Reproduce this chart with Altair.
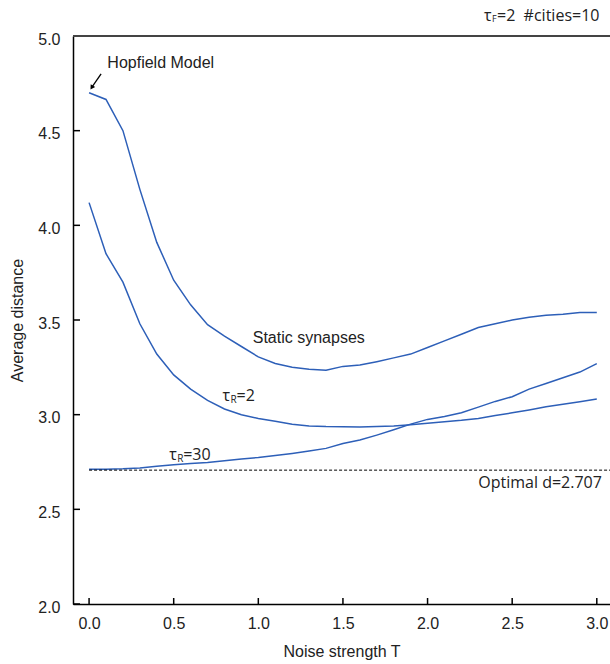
import altair as alt
import pandas as pd

# ---------------- data ----------------
T = [0.0, 0.1, 0.2, 0.3, 0.4, 0.5, 0.6, 0.7, 0.8, 0.9, 1.0,
     1.1, 1.2, 1.3, 1.4, 1.5, 1.6, 1.7, 1.8, 1.9, 2.0,
     2.1, 2.2, 2.3, 2.4, 2.5, 2.6, 2.7, 2.8, 2.9, 3.0]

static_syn = [4.70, 4.665, 4.50, 4.19, 3.91, 3.71, 3.58, 3.475, 3.415, 3.36, 3.305,
              3.27, 3.25, 3.24, 3.235, 3.255, 3.262, 3.28, 3.30, 3.32, 3.355,
              3.39, 3.425, 3.46, 3.48, 3.50, 3.515, 3.525, 3.53, 3.54, 3.54]

tau_r2 = [4.12, 3.85, 3.70, 3.48, 3.32, 3.21, 3.135, 3.075, 3.03, 3.00, 2.98,
          2.965, 2.95, 2.94, 2.937, 2.936, 2.935, 2.937, 2.94, 2.947, 2.955,
          2.962, 2.97, 2.98, 2.995, 3.01, 3.025, 3.042, 3.055, 3.068, 3.083]

tau_r30 = [2.712, 2.712, 2.714, 2.718, 2.727, 2.735, 2.742, 2.748, 2.757, 2.766, 2.774,
           2.784, 2.795, 2.808, 2.822, 2.848, 2.866, 2.892, 2.92, 2.95, 2.975,
           2.99, 3.01, 3.04, 3.07, 3.095, 3.135, 3.165, 3.195, 3.225, 3.27]

optimal_d = 2.707

x_ticks = [0.0, 0.5, 1.0, 1.5, 2.0, 2.5, 3.0]
y_ticks = [2.0, 2.5, 3.0, 3.5, 4.0, 4.5, 5.0]

x_domain = [-0.095, 3.078]
y_domain = [2.0, 5.0]

# annotations (data coordinates)
label_text = ["Hopfield Model", "Static synapses"]
label_x = [0.108, 0.967]
label_y = [4.857, 3.405]

tau_x = [0.789, 0.473]
tau_y = [3.097, 2.785]
tau_main = ["=2", "=30"]

opt_text = ["Optimal d=2.707"]
opt_x = [3.03]
opt_y = [2.64]

header_rest = "=2\u00a0\u00a0#cities=10"

arrow_tail = [0.071, 4.80]
arrow_head = [0.018, 4.731]

BLUE = "#2d5fb8"
TXT = "#222222"
W, H = 537, 568
SANS = "Liberation Sans, Arial, Helvetica, sans-serif"
HUM = "Open Sans, Noto Sans, sans-serif"

xs = alt.Scale(domain=x_domain, nice=False, zero=False)
ys = alt.Scale(domain=y_domain, nice=False, zero=False)

rows = []
for name, vals in [("static", static_syn), ("tr2", tau_r2), ("tr30", tau_r30)]:
    for t, v in zip(T, vals):
        rows.append({"T": t, "d": v, "series": name})
df = pd.DataFrame(rows)

x_axis = alt.Axis(values=x_ticks, format=".1f", title="Noise strength T",
                  labelFont=SANS, labelFontSize=16, labelColor=TXT,
                  labelPadding=11, labelFlush=False, labelOverlap=False,
                  ticks=False, tickSize=0, grid=False,
                  domainColor="black", domainWidth=1.5,
                  titleFont=SANS, titleFontSize=16, titleFontWeight="normal",
                  titleColor=TXT, titlePadding=12)
y_axis = alt.Axis(values=y_ticks, format=".1f", title="Average distance",
                  labelFont=SANS, labelFontSize=16, labelColor=TXT,
                  labelPadding=13, labelOffset=3, labelOverlap=False,
                  ticks=False, tickSize=0, grid=False,
                  domainColor="black", domainWidth=1.5,
                  titleFont=SANS, titleFontSize=16, titleFontWeight="normal",
                  titleColor=TXT, titlePadding=12)


def X(f):
    return alt.X(f, scale=xs, axis=x_axis, title="Noise strength T")


def Y(f):
    return alt.Y(f, scale=ys, axis=y_axis, title="Average distance")


lines = alt.Chart(df).mark_line(color=BLUE, strokeWidth=1.5).encode(
    x=X("T:Q"), y=Y("d:Q"), detail="series:N", order="T:Q")

# inward ticks
xt = alt.Chart(pd.DataFrame({"T": x_ticks})).mark_rule(color="black", strokeWidth=1.5).encode(
    x=X("T:Q"), y=alt.value(H), y2=alt.value(H - 6))
yt = alt.Chart(pd.DataFrame({"d": y_ticks})).mark_rule(color="black", strokeWidth=1.5).encode(
    y=Y("d:Q"), x=alt.value(0), x2=alt.value(7))

# top frame line
top = alt.Chart(pd.DataFrame({"a": [0]})).mark_rule(color="#444444", strokeWidth=2).encode(
    x=alt.value(0), x2=alt.value(W), y=alt.value(0))

# optimal line
opt_line = alt.Chart(pd.DataFrame({"T": [0.0], "T2": [x_domain[1]], "d": [optimal_d]})).mark_rule(
    color="black", strokeWidth=1, strokeDash=[3, 2]).encode(
    x=X("T:Q"), x2="T2:Q", y=Y("d:Q"))

labels = alt.Chart(pd.DataFrame({"T": label_x, "d": label_y, "t": label_text})).mark_text(
    align="left", baseline="middle", font=SANS, fontSize=16, color=TXT).encode(
    x=X("T:Q"), y=Y("d:Q"), text="t:N")

tau_df = pd.DataFrame({"T": tau_x, "d": tau_y, "m": tau_main})
tau_base = alt.Chart(tau_df).encode(x=X("T:Q"), y=Y("d:Q"))
tau_sym = tau_base.mark_text(align="left", baseline="middle", font=HUM, fontSize=16, color=TXT).encode(
    text=alt.value("τ"))
tau_sub = tau_base.mark_text(align="left", baseline="middle", font=HUM, fontSize=10, color=TXT,
                             dx=8, dy=4).encode(text=alt.value("R"))
tau_rest = tau_base.mark_text(align="left", baseline="middle", font=HUM, fontSize=16, color=TXT,
                              dx=14).encode(text="m:N")

opt_lab = alt.Chart(pd.DataFrame({"T": opt_x, "d": opt_y, "t": opt_text})).mark_text(
    align="right", baseline="middle", font=HUM, fontSize=16, color=TXT).encode(
    x=X("T:Q"), y=Y("d:Q"), text="t:N")

# top-right parameter label
hdr = pd.DataFrame({"a": [0]})
hdr_tau = alt.Chart(hdr).mark_text(align="left", baseline="middle", font=HUM, fontSize=16,
                                   color=TXT).encode(x=alt.value(411), y=alt.value(-20), text=alt.value("τ"))
hdr_sub = alt.Chart(hdr).mark_text(align="left", baseline="middle", font=HUM, fontSize=9,
                                   color=TXT).encode(x=alt.value(419), y=alt.value(-17), text=alt.value("F"))
hdr_rest = alt.Chart(hdr).mark_text(align="left", baseline="middle", font=HUM, fontSize=16,
                                    color=TXT).encode(x=alt.value(424), y=alt.value(-20),
                                                      text=alt.value(header_rest))

# arrow
arr = alt.Chart(pd.DataFrame({"T": [arrow_tail[0]], "d": [arrow_tail[1]],
                              "T2": [arrow_head[0]], "d2": [arrow_head[1]]})).mark_rule(
    color="black", strokeWidth=1.3).encode(x=X("T:Q"), y=Y("d:Q"), x2="T2:Q", y2="d2:Q")
arr_head = alt.Chart(pd.DataFrame({"T": [arrow_head[0]], "d": [arrow_head[1]]})).mark_point(
    shape="triangle", angle=213, size=28, filled=True, color="black", opacity=1).encode(
    x=X("T:Q"), y=Y("d:Q"))

chart = alt.layer(
    lines, xt, yt, top, opt_line, labels, tau_sym, tau_sub, tau_rest, opt_lab,
    hdr_tau, hdr_sub, hdr_rest, arr, arr_head
).properties(
    width=W, height=H,
    autosize=alt.AutoSizeParams(type="none"),
    padding={"left": 73, "top": 36, "right": 0, "bottom": 60},
).configure_view(stroke=None)

chart.save("out.html", embed_options={"renderer": "svg", "actions": False})
